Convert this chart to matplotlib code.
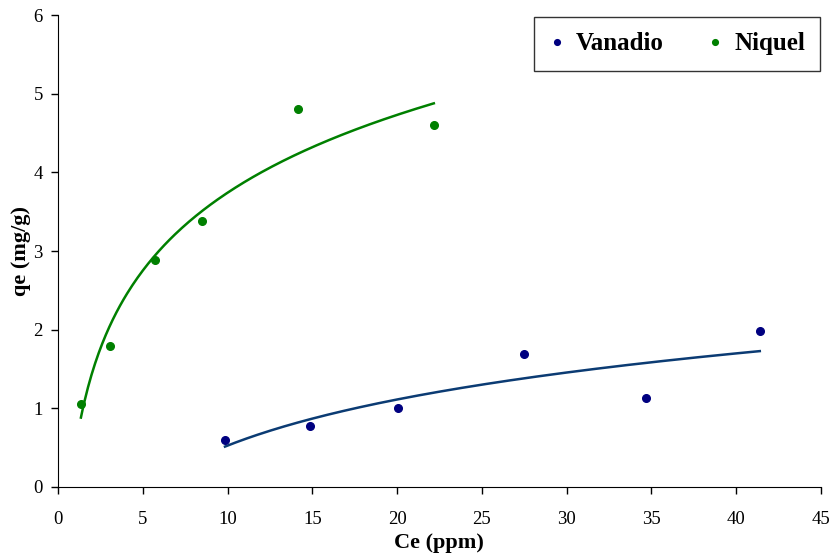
import numpy as np
import matplotlib.pyplot as plt

plt.rcParams['font.family'] = ['Liberation Serif', 'DejaVu Serif']

# data
ce_v = [9.85, 14.86, 20.05, 27.5, 34.67, 41.4]
qe_v = [0.60, 0.775, 1.00, 1.69, 1.13, 1.98]
ce_n = [1.35, 3.07, 5.75, 8.49, 14.15, 22.17]
qe_n = [1.055, 1.79, 2.885, 3.38, 4.80, 4.60]

fig = plt.figure(figsize=(8.35, 5.57), dpi=100)
ax = fig.add_axes([0.0695, 0.1257, 0.9135, 0.8473])

# logarithmic trendlines (Excel style) fitted on the data
for x, y, col in [(ce_v, qe_v, '#0b3b73'), (ce_n, qe_n, '#008000')]:
    a, b = np.polyfit(np.log(x), y, 1)
    xs = np.linspace(min(x), max(x), 200)
    ax.plot(xs, a * np.log(xs) + b, color=col, lw=1.8)

ax.plot(ce_v, qe_v, 'o', color='#000080', ms=5.5, label='Vanadio')
ax.plot(ce_n, qe_n, 'o', color='#008000', ms=5.5, label='Niquel')

ax.set_xlim(0, 45)
ax.set_ylim(0, 6)
ax.set_xticks(range(0, 46, 5))
ax.set_yticks(range(0, 7))
ax.tick_params(direction='out', length=5, labelsize=13.5, width=1)
ax.tick_params(axis='x', pad=12)
ax.tick_params(axis='y', pad=6)
ax.spines['top'].set_visible(False)
ax.spines['right'].set_visible(False)
ax.set_xlabel('Ce (ppm)', fontsize=16, fontweight='bold', labelpad=4)
ax.set_ylabel('qe (mg/g)', fontsize=16, fontweight='bold', labelpad=2)

leg = ax.legend(loc='upper right', ncol=2, prop={'weight': 'bold', 'size': 18},
                frameon=True, fancybox=False, edgecolor='black', handlelength=0.6,
                handletextpad=0.45, columnspacing=1.75, markerscale=0.75, borderpad=0.62,
                borderaxespad=0, bbox_to_anchor=(0.9995, 0.996))
leg.get_frame().set_linewidth(1)

fig.savefig('out.png', dpi=100)
